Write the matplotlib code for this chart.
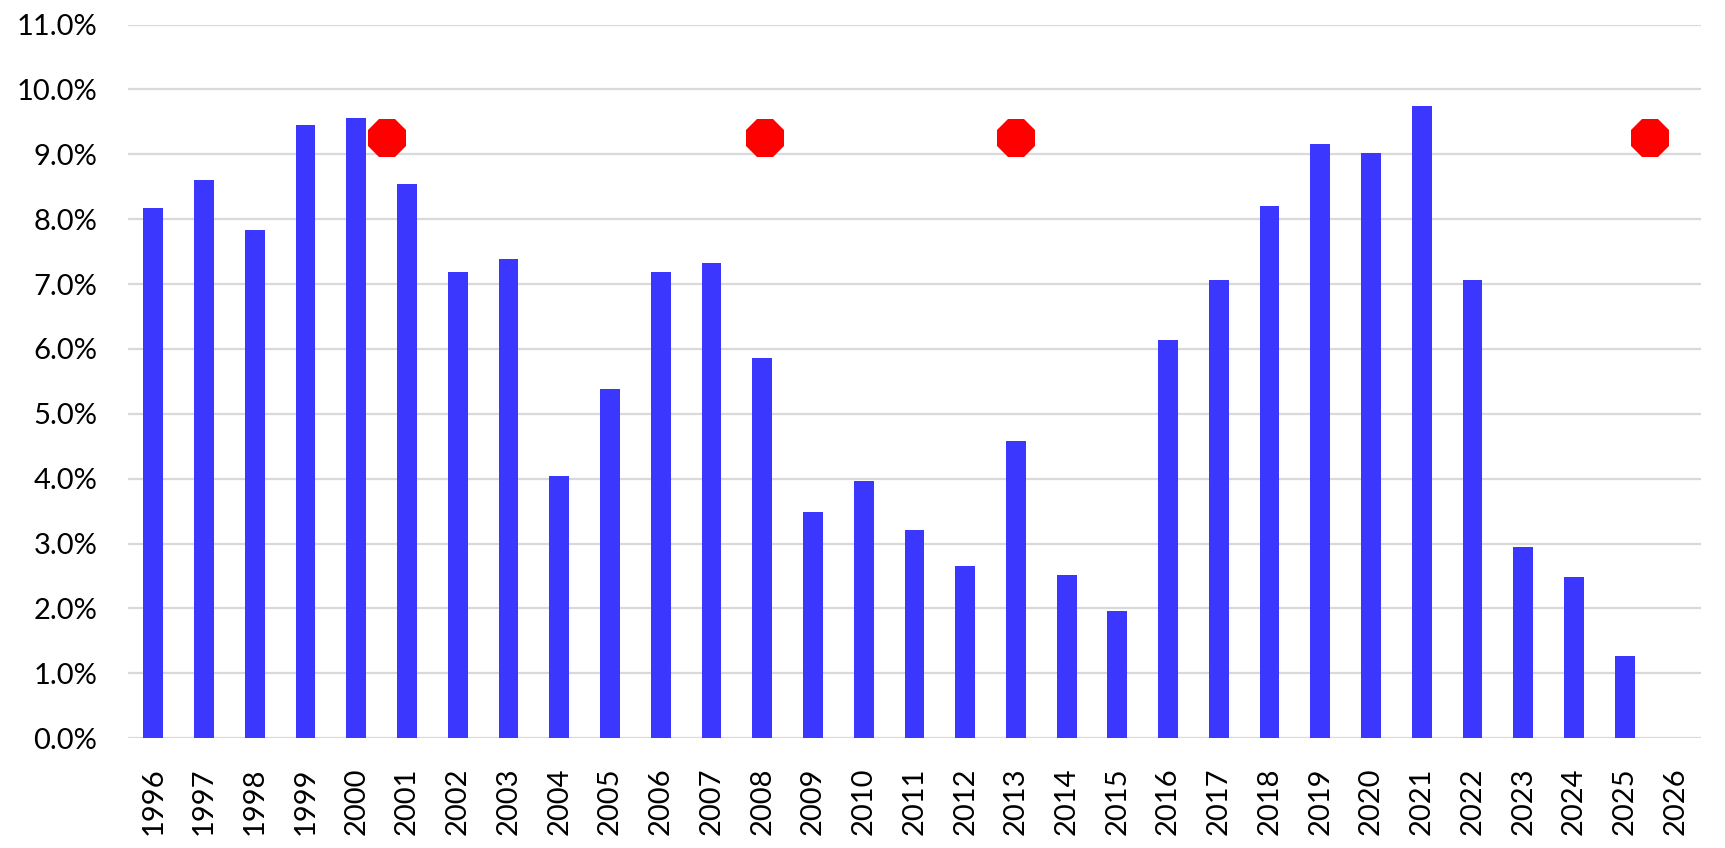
import matplotlib
matplotlib.use("Agg")
import matplotlib.pyplot as plt
from matplotlib.ticker import FuncFormatter

# =======================
# Data
# =======================
years = list(range(1996, 2027))
values = [8.18, 8.60, 7.83, 9.45, 9.56, 8.55, 7.18, 7.38, 4.04, 5.39,
          7.19, 7.33, 5.86, 3.48, 3.97, 3.21, 2.65, 4.58, 2.51, 1.96,
          6.14, 7.06, 8.20, 9.16, 9.02, 9.74, 7.06, 2.95, 2.48, 1.26,
          None]
marker_years = [2000.6, 2008.05, 2013.0, 2025.5]
marker_values = [9.25, 9.25, 9.25, 9.25]

# =======================
# Plot
# =======================
plt.rcParams['font.family'] = ['Lato', 'DejaVu Sans']

fig = plt.figure(figsize=(17.25, 8.48), dpi=100)
ax = fig.add_axes([0.0742, 0.1295, 0.9118, 0.8415])

pos = list(range(len(years)))
bar_vals = [v if v is not None else 0 for v in values]
ax.bar(pos, bar_vals, width=0.39, color="#3c37fe", zorder=3)

marker_pos = [y - years[0] for y in marker_years]
ax.plot(marker_pos, marker_values, linestyle="none", marker="8",
        markersize=29, color="#ff0000", markeredgewidth=0, zorder=4)

ax.set_xlim(-0.5, len(years) - 0.5)
ax.set_ylim(0, 11)
ax.set_yticks(range(0, 12))
ax.yaxis.set_major_formatter(FuncFormatter(lambda v, _: f"{v:.1f}%"))
ax.set_xticks(pos)
ax.set_xticklabels([str(y) for y in years], rotation=90)

ax.grid(axis="y", color="#d9d9d9", linewidth=1.6, zorder=0)
ax.set_axisbelow(True)
for s in ax.spines.values():
    s.set_visible(False)
ax.tick_params(axis="both", length=0, labelsize=21, colors="black")
ax.tick_params(axis="y", pad=22)
ax.tick_params(axis="x", pad=21)

fig.savefig("out.png", dpi=100)
